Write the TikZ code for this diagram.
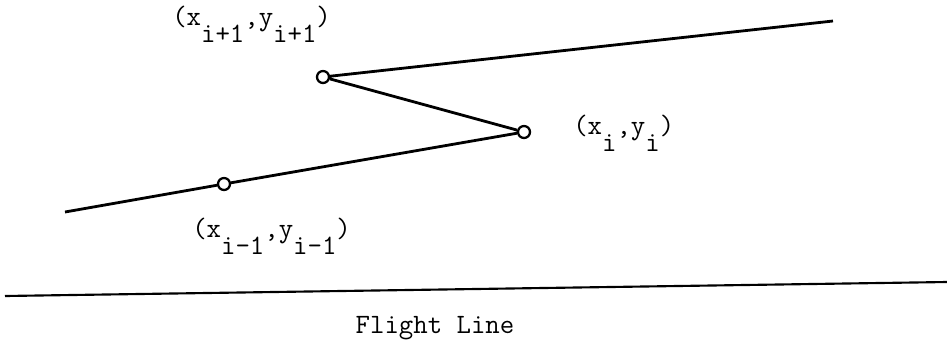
\documentclass[tikz,border=0pt]{standalone}
\usepackage{fontspec}
\usetikzlibrary{positioning}

\newcommand{\lowsub}[1]{\raisebox{-0.63em}{#1}}

\tikzset{
  pt/.style={circle,draw,line width=1.7pt,inner sep=0pt,minimum size=9pt},
  track/.style={line width=2.1pt},
  typed/.style={font=\ttfamily\fontsize{21}{23}\selectfont,inner sep=0pt},
  coordlabel/.style={typed,anchor=base west},
}

\begin{document}
\begin{tikzpicture}[x=0.75pt,y=-0.75pt]
  \useasboundingbox (0,0) rectangle (947,344);
  % points of the track
  \coordinate (start) at (65,212);
  \node[pt] (pim1) at (224,184) {};
  \node[pt] (pi) at (524,132) {};
  \node[pt] (pip1) at (323,77) {};
  \coordinate (finish) at (833,21);
  \draw[track] (start) -- (pim1) -- (pi) -- (pip1) -- (finish);
  % labels
  \node[coordlabel] (lip1) at (172,25) {(x\lowsub{i+1},y\lowsub{i+1})};
  \node[coordlabel] (li) at (573,134) {(x\lowsub{i},y\lowsub{i})};
  \node[coordlabel] (lim1) at (192,237) {(x\lowsub{i-1},y\lowsub{i-1})};
  % flight line
  \coordinate (flA) at (5,296);
  \coordinate (flB) at (947,282);
  \draw[track,line width=1.6pt] (flA) -- (flB);
  \node[typed,anchor=base] (fl) at (435,333) {Flight Line};
\end{tikzpicture}
\end{document}
